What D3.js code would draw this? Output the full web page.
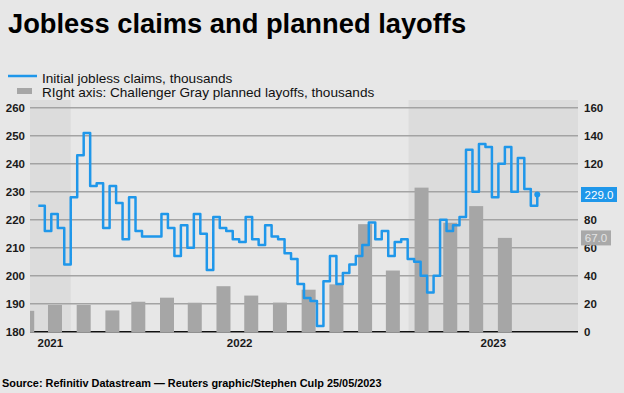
<!DOCTYPE html>
<html>
<head>
<meta charset="utf-8">
<script src="https://cdnjs.cloudflare.com/ajax/libs/d3/7.8.5/d3.min.js"></script>
<style>
body{margin:0;background:#e7e7e7;}
svg{display:block;font-family:"Liberation Sans",Arial,sans-serif;}
</style>
</head>
<body>
<svg width="624" height="393"></svg>
<script>
// weekly initial jobless claims (thousands), first week ending 27 Nov 2021
var claimsStart = "2021-11-27";
var claims = [225,216,222,217,204,228,243,251,232,233,217,232,226,213,228,216,214,214,214,222,
	217,207,218,210,222,215,202,221,217,216,213,212,221,213,211,218,214,213,208,206,
	197,192,191,182,198,207,197,201,204,207,211,219,213,216,207,212,213,206,205,200,
	194,200,220,216,218,221,245,230,247,246,228,240,246,230,242,231,225,229];

// Challenger Gray planned layoffs (thousands)
var months = ["2021-11","2021-12","2022-01","2022-02","2022-03","2022-04","2022-05","2022-06",
	"2022-07","2022-08","2022-09","2022-10","2022-11","2022-12","2023-01","2023-02","2023-03","2023-04"];
var layoffs = [14.9,19.1,19.1,15.2,21.4,24.3,20.7,32.5,25.8,20.8,30.0,33.8,76.8,43.7,102.9,77.8,89.7,67.0];

var years = [2021, 2022, 2023];
var leftTicks = [180,190,200,210,220,230,240,250,260];
var rightTicks = [0,20,40,60,80,100,120,140,160];

var svg = d3.select("svg");
var m = {top:107.7, right:46, bottom:61.3, left:30};
var W = 624, H = 393;

var x = d3.scaleTime()
	.domain([new Date(2021,10,18), new Date(2023,6,3)])
	.range([m.left, W-m.right]);
var yL = d3.scaleLinear().domain([180,260]).range([H-m.bottom, m.top]);
var yR = d3.scaleLinear().domain([0,160]).range([H-m.bottom, m.top]);

var parseDay = d3.timeParse("%Y-%m-%d");
var start = parseDay(claimsStart);
var weekly = claims.map(function(v, i){ return {date: d3.timeDay.offset(start, 7*i), value: v}; });
var monthly = months.map(function(s, i){ return {date: parseDay(s + "-15"), value: layoffs[i]}; });

// alternate year shading
var x0 = x.range()[0], x1 = x.range()[1];
var yearSpans = years.map(function(yr){
	var a = Math.max(x0, x(new Date(yr,0,1))), b = Math.min(x1, x(new Date(yr+1,0,1)));
	return {year: yr, a: a, b: b};
});
svg.selectAll("rect.shade")
	.data(yearSpans.filter(function(d){ return d.year % 2 == 1; }))
	.enter().append("rect")
	.attr("x", d=>d.a).attr("width", d=>d.b-d.a)
	.attr("y", 100).attr("height", yL(180)-100)
	.attr("fill", "#dcdcdc");

// grid
svg.selectAll("line.grid")
	.data(leftTicks.slice(1))
	.enter().append("line")
	.attr("x1", x0).attr("x2", x1)
	.attr("y1", d=>yL(d)).attr("y2", d=>yL(d))
	.attr("stroke", "#a3a3a3").attr("stroke-width", 1.5);

svg.append("line")
	.attr("x1", x0).attr("x2", x1)
	.attr("y1", yL(180)).attr("y2", yL(180))
	.attr("stroke", "#111").attr("stroke-width", 1.5);

svg.append("clipPath").attr("id", "clip")
	.append("rect").attr("x", x0).attr("y", 0).attr("width", x1-x0).attr("height", H);

// bars
svg.append("g").attr("clip-path", "url(#clip)")
	.selectAll("rect")
	.data(monthly)
	.enter().append("rect")
	.attr("x", d=>x(d.date)-7)
	.attr("width", 14)
	.attr("y", d=>yR(d.value))
	.attr("height", d=>yR(0)-yR(d.value)+0.8)
	.attr("fill", "#a6a6a6");

// claims line
var line = d3.line()
	.x(d=>x(d.date)).y(d=>yL(d.value))
	.curve(d3.curveStepAfter);
svg.append("path")
	.datum(weekly)
	.attr("d", line)
	.attr("fill", "none")
	.attr("stroke", "#1f97ea")
	.attr("stroke-width", 2.5)
	.attr("stroke-linejoin", "round");

var last = weekly[weekly.length-1];
svg.append("circle")
	.attr("cx", x(last.date)).attr("cy", yL(last.value)).attr("r", 3)
	.attr("fill", "#1f97ea");

// axes labels
svg.selectAll("text.yl")
	.data(leftTicks)
	.enter().append("text")
	.attr("x", 25).attr("y", d=>yL(d)).attr("dy", "0.36em")
	.attr("text-anchor", "end")
	.attr("font-size", "11.5px").attr("font-weight", "bold").attr("fill", "#1a1a1a")
	.text(d=>d);

svg.selectAll("text.yr")
	.data(rightTicks)
	.enter().append("text")
	.attr("x", 584).attr("y", d=>yR(d)).attr("dy", "0.36em")
	.attr("font-size", "11.5px").attr("font-weight", "bold").attr("fill", "#1a1a1a")
	.text(d=>d);

svg.selectAll("text.yr2")
	.data(yearSpans)
	.enter().append("text")
	.attr("x", d=>(d.a+d.b)/2).attr("y", 347)
	.attr("text-anchor", "middle")
	.attr("font-size", "11.5px").attr("font-weight", "bold").attr("fill", "#1a1a1a")
	.text(d=>d.year);

// latest value tags
function tag(yv, txt, bg, fg, w){
	svg.append("rect").attr("x", 581).attr("y", yv-7.5).attr("width", w).attr("height", 15).attr("fill", bg);
	svg.append("text").attr("x", 581+w/2).attr("y", yv).attr("dy", "0.36em")
		.attr("text-anchor", "middle").attr("font-size", "11.5px").attr("fill", fg).text(txt);
}
tag(yL(last.value), d3.format(".1f")(last.value), "#1f97ea", "#ffffff", 36);
tag(yR(layoffs[layoffs.length-1]), d3.format(".1f")(layoffs[layoffs.length-1]), "#a9a9a9", "#e4e4e4", 30);

// legend
svg.append("line").attr("x1", 8).attr("x2", 37).attr("y1", 76).attr("y2", 76)
	.attr("stroke", "#1f97ea").attr("stroke-width", 2.5);
svg.append("text").attr("x", 42).attr("y", 82.5).attr("font-size", "13.6px").attr("fill", "#111")
	.text("Initial jobless claims, thousands");
svg.append("rect").attr("x", 17).attr("y", 88).attr("width", 15).attr("height", 6).attr("fill", "#a6a6a6");
svg.append("text").attr("x", 42).attr("y", 96.5).attr("font-size", "13.6px").attr("fill", "#111")
	.text("RIght axis: Challenger Gray planned layoffs, thousands");

// title and source
svg.append("text").attr("x", 8).attr("y", 33)
	.attr("font-size", "27.3px").attr("font-weight", "bold").attr("fill", "#000")
	.text("Jobless claims and planned layoffs");
svg.append("text").attr("x", 2).attr("y", 387)
	.attr("font-size", "10.9px").attr("font-weight", "bold").attr("fill", "#000")
	.text("Source: Refinitiv Datastream \u2014 Reuters graphic/Stephen Culp 25/05/2023");
</script>
</body>
</html>
